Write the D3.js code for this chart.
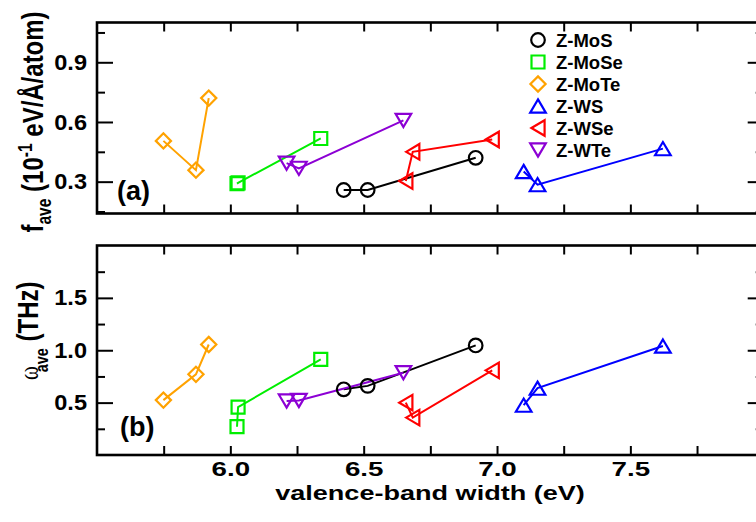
<!DOCTYPE html>
<html>
<head>
<meta charset="utf-8">
<script src="https://cdn.jsdelivr.net/npm/d3@7"></script>
<style>
  html, body { margin: 0; padding: 0; background: #fff; }
  svg { display: block; }
</style>
</head>
<body>
<svg id="chart" width="756" height="522"></svg>
<script>
// ---- data -------------------------------------------------------------
const seriesNames = ["Z-MoS", "Z-MoSe", "Z-MoTe", "Z-WS", "Z-WSe", "Z-WTe"];

// valence-band width (eV)
const vbwMoS  = [6.425, 6.515, 6.920];
const vbwMoSe = [6.025, 6.029, 6.339];
const vbwMoTe = [5.749, 5.871, 5.919];
const vbwWS   = [7.100, 7.152, 7.622];
const vbwWSe  = [6.658, 6.684, 6.982];
const vbwWTe  = [6.211, 6.257, 6.649];

// (a) average force f_ave (10^-1 eV/Å/atom)
const fMoS  = [0.258, 0.258, 0.420];
const fMoSe = [0.290, 0.294, 0.517];
const fMoTe = [0.505, 0.358, 0.720];
const fWS   = [0.351, 0.285, 0.466];
const fWSe  = [0.303, 0.450, 0.512];
const fWTe  = [0.393, 0.367, 0.608];

// (b) average frequency ω_ave (THz)
const wMoS  = [0.627, 0.660, 1.046];
const wMoSe = [0.270, 0.457, 0.912];
const wMoTe = [0.524, 0.770, 1.055];
const wWS   = [0.476, 0.638, 1.040];
const wWSe  = [0.500, 0.357, 0.808];
const wWTe  = [0.515, 0.520, 0.786];

const xTickValues = [5.75, 6.0, 6.25, 6.5, 6.75, 7.0, 7.25, 7.5, 7.75];
const xTickLabels = ["", "6.0", "", "6.5", "", "7.0", "", "7.5", ""];
const fMajorTicks = [0.3, 0.6, 0.9];
const fMinorTicks = [0.15, 0.45, 0.75, 1.05];
const wMajorTicks = [0.5, 1.0, 1.5];
const wMinorTicks = [0.25, 0.75, 1.25, 1.75];

// ---- styling ------------------------------------------------------------
const colors  = ["#000000", "#00ee00", "#ffa200", "#0000ff", "#ff0000", "#8c00d4"];
const shapes  = ["circle", "square", "diamond", "triUp", "triLeft", "triDown"];
const FONT = "'Liberation Sans', Arial, Helvetica, sans-serif";

const vbw = [vbwMoS, vbwMoSe, vbwMoTe, vbwWS, vbwWSe, vbwWTe];
const fData = [fMoS, fMoSe, fMoTe, fWS, fWSe, fWTe];
const wData = [wMoS, wMoSe, wMoTe, wWS, wWSe, wWTe];

const svg = d3.select("#chart");
svg.append("rect").attr("width", 756).attr("height", 522).attr("fill", "#fff");

const left = 97, right = 763.7;
const x = d3.scaleLinear().domain([5.5, 8.0]).range([left, right]);

const panels = [
  { id: "a", top: 22.5, bottom: 213.5, domain: [0.14, 1.1], major: fMajorTicks, minor: fMinorTicks,
    data: fData, fmt: d3.format(".1f"), xLabels: false },
  { id: "b", top: 245.5, bottom: 455, domain: [0, 2.0], major: wMajorTicks, minor: wMinorTicks,
    data: wData, fmt: d3.format(".1f"), xLabels: true }
];

// marker path generator, centred on the bounding box
function markerPath(shape) {
  switch (shape) {
    case "circle": { const r = 6.8; return `M${-r},0A${r},${r} 0 1,0 ${r},0A${r},${r} 0 1,0 ${-r},0Z`; }
    case "square": { const s = 6.5; return `M${-s},${-s}H${s}V${s}H${-s}Z`; }
    case "diamond": { const s = 7.6; return `M0,${-s}L${s},0L0,${s}L${-s},0Z`; }
    case "triUp":   return "M0,-6.6L7.8,6.6L-7.8,6.6Z";
    case "triDown": return "M0,6.6L7.8,-6.6L-7.8,-6.6Z";
    case "triLeft": return "M-6.6,0L6.6,-7.8L6.6,7.8Z";
  }
}

function styleAxis(g) {
  g.select(".domain").remove();
  g.selectAll(".tick line").attr("stroke", "#000").attr("stroke-width", 2);
  g.attr("font-family", FONT).attr("font-weight", "bold");
}

panels.forEach(p => {
  const y = d3.scaleLinear().domain(p.domain).range([p.bottom, p.top]);
  const g = svg.append("g");

  // bottom ticks (inward)
  const xb = g.append("g").attr("transform", `translate(0,${p.bottom})`)
    .call(d3.axisBottom(x).tickValues(xTickValues).tickSize(-9).tickPadding(6)
      .tickFormat((d, i) => p.xLabels ? xTickLabels[i] : ""));
  styleAxis(xb);
  xb.attr("font-size", 21);
  xb.selectAll(".tick text").attr("fill", "#000")
    .attr("transform", "scale(1.32,1)");

  // top ticks (inward)
  const xt = g.append("g").attr("transform", `translate(0,${p.top})`)
    .call(d3.axisTop(x).tickValues(xTickValues).tickSize(-9).tickFormat(""));
  styleAxis(xt);

  // left ticks
  const yl = g.append("g").attr("transform", `translate(${left},0)`)
    .call(d3.axisLeft(y).tickValues(p.major).tickSize(-16).tickPadding(10).tickFormat(p.fmt));
  styleAxis(yl);
  yl.attr("font-size", 22);
  yl.selectAll(".tick text").attr("fill", "#000").attr("x", null)
    .attr("transform", "translate(-10,0) scale(1.07,1)");
  const ylm = g.append("g").attr("transform", `translate(${left},0)`)
    .call(d3.axisLeft(y).tickValues(p.minor).tickSize(-8).tickFormat(""));
  styleAxis(ylm);

  // right ticks (mirror)
  const yr = g.append("g").attr("transform", `translate(${right},0)`)
    .call(d3.axisRight(y).tickValues(p.major).tickSize(-16).tickFormat(""));
  styleAxis(yr);
  const yrm = g.append("g").attr("transform", `translate(${right},0)`)
    .call(d3.axisRight(y).tickValues(p.minor).tickSize(-8).tickFormat(""));
  styleAxis(yrm);

  // frame
  g.append("rect").attr("x", left).attr("y", p.top)
    .attr("width", right - left).attr("height", p.bottom - p.top)
    .attr("fill", "none").attr("stroke", "#000").attr("stroke-width", 2.6);

  // series lines then markers
  const line = d3.line().x(d => x(d[0])).y(d => y(d[1]));
  seriesNames.forEach((name, si) => {
    const pts = vbw[si].map((v, k) => [v, p.data[si][k]]);
    g.append("path").datum(pts).attr("d", line)
      .attr("fill", "none").attr("stroke", colors[si]).attr("stroke-width", 2);
  });
  seriesNames.forEach((name, si) => {
    const pts = vbw[si].map((v, k) => [v, p.data[si][k]]);
    g.selectAll(null).data(pts).join("path")
      .attr("transform", d => `translate(${x(d[0])},${y(d[1])})`)
      .attr("d", markerPath(shapes[si]))
      .attr("fill", "none").attr("stroke", colors[si]).attr("stroke-width", 2.2)
      .attr("stroke-linejoin", "miter");
  });

  // panel tag
  g.append("text").attr("x", p.id === "a" ? 117 : 120).attr("y", p.id === "a" ? 200 : 436)
    .attr("font-family", FONT).attr("font-weight", "bold").attr("font-size", 27)
    .text(`(${p.id})`);
});

// legend
const legend = svg.append("g").attr("font-family", FONT).attr("font-weight", "bold").attr("font-size", 18.5);
seriesNames.forEach((name, i) => {
  const ly = 40 + i * 22;
  legend.append("path").attr("transform", `translate(538,${ly})`)
    .attr("d", markerPath(shapes[i])).attr("fill", "none")
    .attr("stroke", colors[i]).attr("stroke-width", 2.2);
  legend.append("text").attr("x", 556).attr("y", ly).attr("dy", "0.36em").text(name);
});

// x axis title
svg.append("text")
  .attr("transform", "translate(430,499.5) scale(1.32,1)")
  .attr("text-anchor", "middle")
  .attr("font-family", FONT).attr("font-weight", "bold").attr("font-size", 20.5)
  .text("valence-band width (eV)");

// y axis title (a)
const F = 24;
const ta = svg.append("text")
  .attr("transform", "translate(43,122) scale(1.25,1) rotate(-90)")
  .attr("text-anchor", "middle")
  .attr("font-family", FONT).attr("font-weight", "bold").attr("font-size", F);
ta.append("tspan").text("f");
ta.append("tspan").attr("font-size", F * 0.65).attr("dy", F * 0.28).text("ave");
ta.append("tspan").attr("dy", -F * 0.28).text(" (10");
ta.append("tspan").attr("font-size", F * 0.65).attr("dy", -F * 0.38).text("-1");
ta.append("tspan").attr("dy", F * 0.38).text(" eV/Å/atom)");

// y axis title (b): the subscript tucks in close to the omega
const tb = svg.append("text")
  .attr("transform", "translate(38,380) scale(1.25,1) rotate(-90)")
  .attr("text-anchor", "start")
  .attr("font-family", FONT).attr("font-weight", "bold").attr("font-size", F);
tb.append("tspan").attr("font-family", "'Liberation Serif', 'DejaVu Serif', serif")
  .attr("font-weight", "normal").attr("font-size", 21).text("ω");
tb.append("tspan").attr("font-size", F * 0.6).attr("dx", -6).attr("dy", F * 0.32).text("ave");
tb.append("tspan").attr("dy", -F * 0.32).text(" (THz)");
</script>
</body>
</html>
